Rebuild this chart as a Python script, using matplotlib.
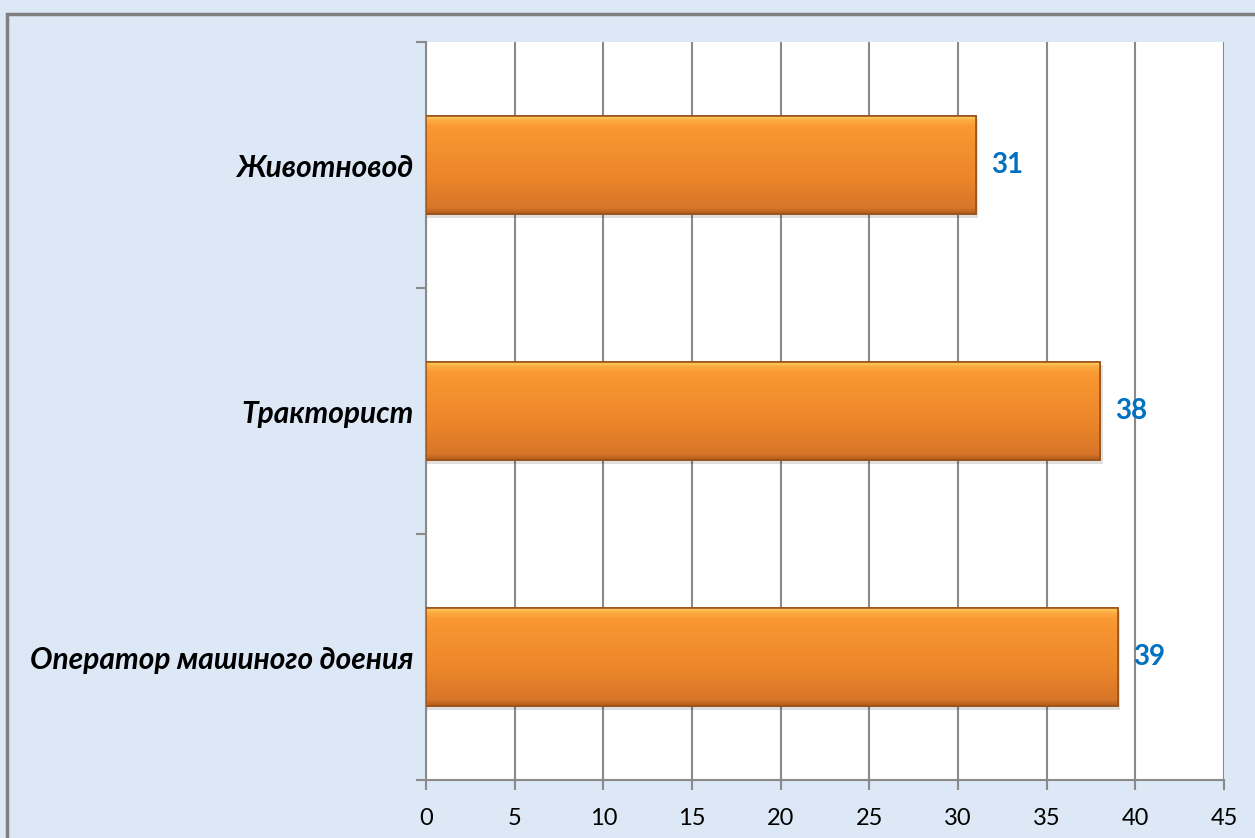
import numpy as np
import matplotlib.pyplot as plt
from matplotlib.patches import Rectangle
from matplotlib.colors import LinearSegmentedColormap

# данные
professions = ['Оператор машиного доения', 'Тракторист', 'Животновод']
counts = [39, 38, 31]
x_ticks = [0, 5, 10, 15, 20, 25, 30, 35, 40, 45]

plt.rcParams['font.family'] = ['Lato', 'Open Sans', 'DejaVu Sans']

fig = plt.figure(figsize=(12.55, 8.38), dpi=100)
fig.patch.set_facecolor('#dce8f5')

# рамка
fig.patches.append(Rectangle((7 / 1255, -0.1), 1.2, 1 - 14 / 838 + 0.1,
                             transform=fig.transFigure, fill=False,
                             edgecolor='#808080', linewidth=2.5, zorder=0))

ax = fig.add_axes([426 / 1255, 1 - 780 / 838, 798 / 1255, 738 / 838])
ax.set_facecolor('white')

y = np.arange(len(professions))
bars = ax.barh(y, counts, height=0.4, color='#f7922d', edgecolor='#a85a1c',
               linewidth=1.2, zorder=3)

# градиент на столбцах
cmap = LinearSegmentedColormap.from_list(
    'orange', [(0.0, '#b05c1c'), (0.06, '#d8752a'), (0.35, '#ea8529'),
               (0.88, '#fa9833'), (0.95, '#fcae42'), (1.0, '#ffd66c')])
grad = np.linspace(0, 1, 256).reshape(-1, 1)
for b in bars:
    x0, y0 = b.get_x(), b.get_y()
    w, h = b.get_width(), b.get_height()
    # тень
    ax.add_patch(Rectangle((x0, y0 - 0.015), w + 0.15, h, facecolor='#000000',
                           alpha=0.12, edgecolor='none', zorder=2))
    im = ax.imshow(grad, cmap=cmap, aspect='auto', origin='lower',
                   extent=(x0, x0 + w, y0, y0 + h), zorder=3.5)
    im.set_clip_path(b)
    ax.add_patch(Rectangle((x0, y0), w, h, fill=False, edgecolor='#9a5218',
                           linewidth=1.2, zorder=4))

for yi, v in zip(y, counts):
    ax.text(v + 0.85, yi, str(v), va='center', ha='left', fontsize=20,
            fontweight='bold', color='#0070c0', zorder=5)

ax.set_xlim(0, 45)
ax.set_ylim(-0.5, len(professions) - 0.5)
ax.set_xticks(x_ticks)
ax.set_xticklabels([str(t) for t in x_ticks], fontsize=17)
ax.grid(axis='x', color='#8a8a8a', linewidth=1.5, zorder=1)
ax.set_axisbelow(True)

ax.set_yticks(np.arange(-0.5, len(professions), 1.0))
ax.set_yticklabels([])
ax.set_yticks(y, minor=True)
ax.set_yticklabels(professions, minor=True, fontsize=21.5, fontweight='bold',
                   fontstyle='italic')
ax.tick_params(axis='y', which='minor', length=0, pad=9)
ax.tick_params(axis='y', which='major', length=7, width=1.5, color='#8a8a8a')
ax.tick_params(axis='x', length=7, width=1.5, color='#8a8a8a', pad=13)

for s in ['top', 'right']:
    ax.spines[s].set_visible(False)
for s in ['left', 'bottom']:
    ax.spines[s].set_color('#8a8a8a')
    ax.spines[s].set_linewidth(1.5)

fig.savefig('out.png', dpi=100, facecolor=fig.get_facecolor())
